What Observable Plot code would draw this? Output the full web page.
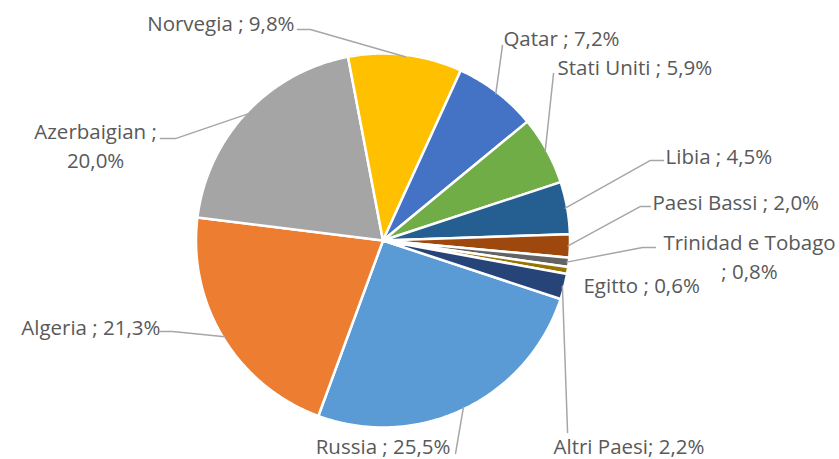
<!DOCTYPE html>
<html>
<head>
<meta charset="utf-8">
<script src="https://cdn.jsdelivr.net/npm/d3@7"></script>
<script src="https://cdn.jsdelivr.net/npm/@observablehq/plot@0.6"></script>
<style>
  html, body { margin: 0; padding: 0; background: #ffffff; }
  #chart svg { display: block; }
</style>
</head>
<body>
<div id="chart"></div>
<script>
// ---- Data ----
const countries = ["Russia", "Algeria", "Azerbaigian", "Norvegia", "Qatar", "Stati Uniti",
                   "Libia", "Paesi Bassi", "Trinidad e Tobago", "Egitto", "Altri Paesi"];
const shares = [25.5, 21.3, 20.0, 9.8, 7.2, 5.9, 4.5, 2.0, 0.8, 0.6, 2.2];
const colors = ["#5B9BD5", "#ED7D31", "#A5A5A5", "#FFC000", "#4472C4", "#70AD47",
                "#255E91", "#9E480E", "#636363", "#997300", "#264478"];
const separators = [" ; ", " ; ", " ;\n", " ; ", " ; ", " ; ", " ; ", " ; ", "\n; ", " ; ", "; "];

// ---- Layout (unit-circle coordinates, pie radius = 1) ----
const startAngle = 108.25; // degrees, clockwise from 12 o'clock
const labelPos = [
  {x: 0.361, y: -1.092, anchor: "end"},
  {x: -1.190, y: -0.455, anchor: "end"},
  {x: -1.537, y: 0.513, anchor: "middle"},
  {x: -0.473, y: 1.171, anchor: "end"},
  {x: 0.644, y: 1.091, anchor: "start"},
  {x: 0.933, y: 0.936, anchor: "start"},
  {x: 1.511, y: 0.455, anchor: "start"},
  {x: 1.441, y: 0.214, anchor: "start"},
  {x: 1.960, y: -0.080, anchor: "middle"},
  {x: 1.072, y: -0.230, anchor: "start"},
  {x: 0.912, y: -1.092, anchor: "start"}
];
// leader: [label-end point, elbow] ; null = no leader
const leaders = [
  [[0.388, -1.139], [0.388, -1.139]],
  [[-1.190, -0.487], [-1.126, -0.487]],
  [[-1.190, 0.545], [-1.110, 0.545]],
  [[-0.457, 1.128], [-0.388, 1.128]],
  [[0.639, 1.043], [0.639, 1.043]],
  [[0.912, 0.893], [0.912, 0.893]],
  [[1.500, 0.428], [1.430, 0.428]],
  [[1.430, 0.182], [1.377, 0.182]],
  [[1.457, -0.037], [1.388, -0.037]],
  null,
  [[0.987, -1.027], [0.987, -1.027]]
];

// ---- Build slices ----
const total = d3.sum(shares);
const rad = Math.PI / 180;
let acc = startAngle;
const slices = countries.map((c, i) => {
  const span = shares[i] / total * 360;
  const a0 = acc, a1 = acc + span;
  acc = a1;
  return {name: c, value: shares[i], color: colors[i], a0, a1, mid: (a0 + a1) / 2, i};
});

const polyPts = [];
for (const s of slices) {
  polyPts.push({name: s.name, color: s.color, x: 0, y: 0});
  const n = Math.max(2, Math.ceil((s.a1 - s.a0) / 0.5));
  for (let k = 0; k <= n; k++) {
    const a = (s.a0 + (s.a1 - s.a0) * k / n) * rad;
    polyPts.push({name: s.name, color: s.color, x: Math.sin(a), y: Math.cos(a)});
  }
}

const leaderPts = [];
slices.forEach((s, i) => {
  const L = leaders[i];
  if (!L) return;
  const a = s.mid * rad;
  leaderPts.push({name: s.name, x: L[0][0], y: L[0][1]});
  leaderPts.push({name: s.name, x: L[1][0], y: L[1][1]});
  leaderPts.push({name: s.name, x: Math.sin(a) * 0.99, y: Math.cos(a) * 0.99});
});

const fmt = v => v.toFixed(1).replace(".", ",") + "%";
const labels = slices.map((s, i) => ({
  x: labelPos[i].x, y: labelPos[i].y, anchor: labelPos[i].anchor,
  text: s.name + separators[i] + fmt(s.value)
}));

// ---- Scales: center (382.5, 240) px, radius 187 px ----
const W = 839, H = 459, cx = 382.5, cy = 240, R = 187;
const xDomain = [(0 - cx) / R, (W - cx) / R];
const yDomain = [(cy - H) / R, cy / R];

const textOpts = anchor => ({
  x: "x", y: "y", text: "text", textAnchor: anchor, lineAnchor: "middle",
  fontSize: 20.5, fill: "#595959", lineHeight: 1.38
});

const chart = Plot.plot({
  width: W, height: H, margin: 0,
  x: {domain: xDomain, axis: null},
  y: {domain: yDomain, axis: null},
  style: {fontFamily: "'Open Sans', Lato, sans-serif", background: "#ffffff"},
  marks: [
    Plot.line(polyPts, {x: "x", y: "y", z: "name", fill: "color", stroke: "#ffffff",
      strokeWidth: 2.5, curve: "linear-closed", strokeLinejoin: "round"}),
    Plot.line(leaderPts, {x: "x", y: "y", z: "name", stroke: "#A6A6A6", strokeWidth: 1.5}),
    Plot.text(labels.filter(d => d.anchor === "start"), textOpts("start")),
    Plot.text(labels.filter(d => d.anchor === "end"), textOpts("end")),
    Plot.text(labels.filter(d => d.anchor === "middle"), textOpts("middle"))
  ]
});
document.getElementById("chart").appendChild(chart);
</script>
</body>
</html>
